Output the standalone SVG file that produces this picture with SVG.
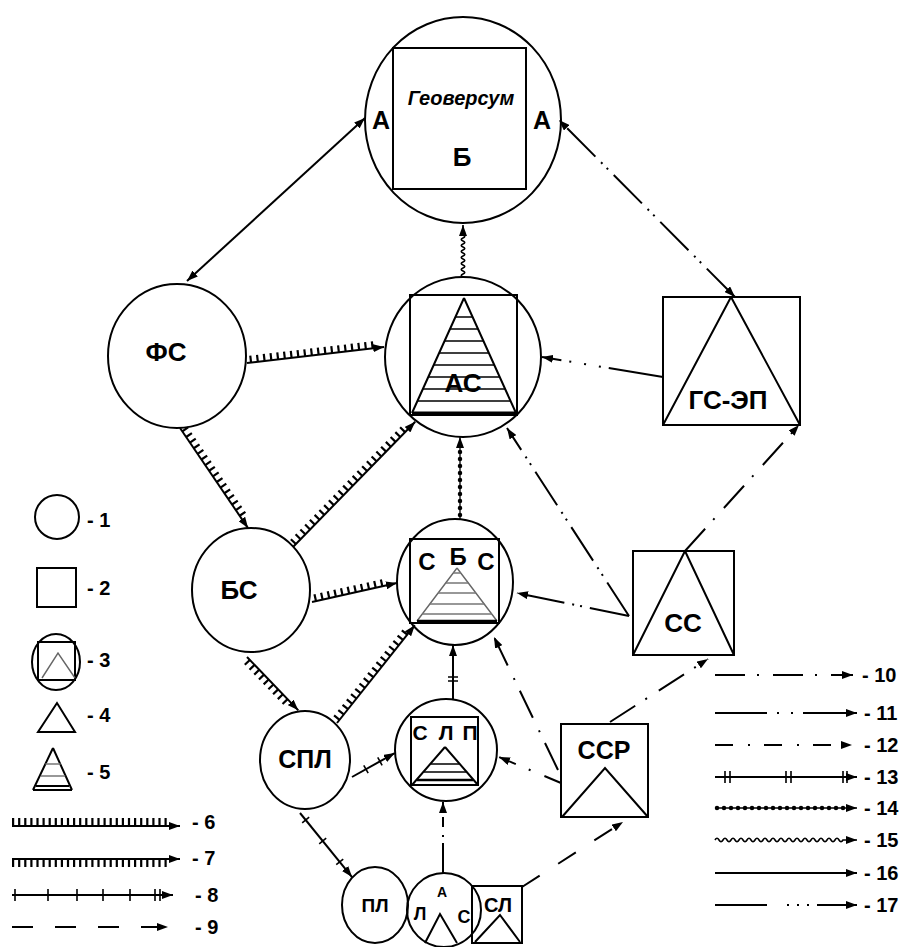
<svg xmlns="http://www.w3.org/2000/svg" width="910" height="947" viewBox="0 0 910 947">
<defs>
<style>
.s{fill:none;stroke:#000;stroke-width:2}
.g{fill:none;stroke:#666;stroke-width:1.4}
.h{fill:none;stroke:#000;stroke-width:1.4}
.hg{fill:none;stroke:#777;stroke-width:1.4}
.t{font-family:"Liberation Sans",Arial,sans-serif;font-weight:bold;fill:#000;text-anchor:middle}
.lg{font-family:"Liberation Sans",Arial,sans-serif;font-weight:bold;fill:#000;font-size:20px}
.ln{fill:none;stroke:#000;stroke-width:2}
.tk{fill:none;stroke:#000;stroke-width:7;stroke-dasharray:2.2 4.6}
.x{fill:none;stroke:#000;stroke-width:1.6}
.d9{stroke-dasharray:21 22}
.d10{stroke-dasharray:30 12 2 14}
.d11{stroke-dasharray:40 8 2 6 2 8}
.d12{stroke-dasharray:18 15 2 14}
.dot{fill:none;stroke:#000;stroke-width:4.5;stroke-linecap:round;stroke-dasharray:0 7}
.thin{fill:none;stroke:#000;stroke-width:1.3}
.wave{fill:none;stroke:#000;stroke-width:1.6}
</style>
<marker id="ah" viewBox="0 0 11 8" refX="11" refY="4" markerWidth="11" markerHeight="8" markerUnits="userSpaceOnUse" orient="auto-start-reverse"><path d="M0,0L11,4L0,8z" fill="#000"/></marker>
</defs>
<rect width="910" height="947" fill="#fff"/>

<g id="geoversum">
<ellipse class="s" cx="463" cy="120" rx="98" ry="103"/>
<rect class="s" x="393" y="48" width="133" height="141"/>
<text class="t" x="461" y="105" font-size="20" font-style="italic">Геоверсум</text>
<text class="t" x="462" y="166" font-size="26">Б</text>
<text class="t" x="381" y="129" font-size="25">А</text>
<text class="t" x="542" y="129" font-size="25">А</text>
</g>

<g id="fs">
<ellipse class="s" cx="177" cy="356" rx="69" ry="72"/>
<text class="t" x="166" y="361" font-size="26">ФС</text>
</g>

<g id="as">
<ellipse class="s" cx="463" cy="357" rx="78" ry="80"/>
<rect class="s" x="410" y="295" width="107" height="120"/>
<path class="s" d="M464,298L412,413M464,298L516,413"/>
<path d="M412,413H516" stroke="#000" stroke-width="3"/>
<path class="h" d="M455.4,317H472.6M450,329H478M444.6,341H483.4M439.1,353H488.9M433.7,365H494.3M428.3,377H499.7M422.9,389H505.1M417.4,401H510.6"/>
<text class="t" x="463" y="392" font-size="26">АС</text>
</g>

<g id="gsep">
<rect class="s" x="663" y="297" width="137" height="128"/>
<path class="s" d="M731,297L663,425M731,297L800,425"/>
<text class="t" x="728" y="409" font-size="26">ГС-ЭП</text>
</g>

<g id="bs">
<ellipse class="s" cx="251" cy="590" rx="59" ry="62"/>
<text class="t" x="239" y="599" font-size="26">БС</text>
</g>

<g id="sbs">
<ellipse class="s" cx="455" cy="582" rx="58" ry="63"/>
<rect class="s" x="410" y="539" width="89" height="84"/>
<path class="g" d="M457,568L417,621M457,568L497,621"/>
<path class="hg" d="M453.2,573H460.8M445.7,583H468.3M438.1,593H475.9M429.8,604H484.2M422.3,614H491.7"/>
<path d="M417,621H497" stroke="#000" stroke-width="2.5"/>
<text class="t" x="427" y="570" font-size="24">С</text>
<text class="t" x="458" y="565" font-size="24">Б</text>
<text class="t" x="486" y="570" font-size="24">С</text>
</g>

<g id="ss">
<rect class="s" x="633" y="551" width="101" height="104"/>
<path class="s" d="M685,551L633,655M685,551L734,655"/>
<text class="t" x="683" y="632" font-size="26">СС</text>
</g>

<g id="spl">
<ellipse class="s" cx="305" cy="760" rx="45" ry="49"/>
<text class="t" x="305" y="768" font-size="25">СПЛ</text>
</g>

<g id="slp">
<ellipse class="s" cx="446" cy="750" rx="51" ry="51"/>
<rect class="s" x="411" y="717" width="67" height="68"/>
<path class="s" d="M445,747L412,785M445,747L478,785"/>
<path class="h" d="M431,764H459M424,772H466"/>
<path d="M417,780H473" stroke="#000" stroke-width="2.5"/>
<text class="t" x="420" y="740" font-size="21">С</text>
<text class="t" x="446" y="740" font-size="21">Л</text>
<text class="t" x="470" y="740" font-size="21">П</text>
</g>

<g id="ssr">
<rect class="s" x="561" y="724" width="87" height="93"/>
<path class="s" d="M562,817L605,768L648,817"/>
<text class="t" x="604" y="759" font-size="25">ССР</text>
</g>

<g id="pl">
<ellipse class="s" cx="375" cy="905" rx="33" ry="38"/>
<text class="t" x="375" y="912" font-size="19">ПЛ</text>
</g>

<g id="als">
<ellipse class="s" cx="444" cy="910" rx="37" ry="37"/>
<path class="s" d="M425,943L440,914L457,943"/>
<text class="t" x="442" y="897" font-size="14">А</text>
<text class="t" x="420" y="920" font-size="18">Л</text>
<text class="t" x="464" y="923" font-size="18">С</text>
</g>

<g id="sl">
<rect class="s" x="472" y="886" width="50" height="57"/>
<path class="s" d="M475,942L500,915L520,942"/>
<text class="t" x="498" y="912" font-size="20">СЛ</text>
</g>

<g id="connectors">
<line class="ln" x1="187" y1="281" x2="365" y2="118" marker-start="url(#ah)" marker-end="url(#ah)"/>
<line class="ln d11" x1="735" y1="297" x2="559" y2="120" marker-start="url(#ah)" marker-end="url(#ah)"/>
<g transform="translate(463,277) rotate(-90)"><path class="wave" d="M0,0q1.5,-3.5 3,0t3,0t3,0t3,0t3,0t3,0t3,0t3,0t3,0t3,0t3,0t3,0t3,0t3,0h10" marker-end="url(#ah)"/></g>
<g transform="translate(247,363) rotate(-6.66)"><path class="ln" d="M0,0H138" marker-end="url(#ah)"/><path class="tk" d="M3,-3.5H128"/></g>
<g transform="translate(180,428) rotate(55.8)"><path class="ln" d="M0,0H121" marker-end="url(#ah)"/><path class="tk" d="M3,-3.5H111"/></g>
<g transform="translate(293,547) rotate(-45.7)"><path class="ln" d="M0,0H175" marker-end="url(#ah)"/><path class="tk" d="M3,-3.5H165"/></g>
<g transform="translate(312,602) rotate(-12.6)"><path class="ln" d="M0,0H87" marker-end="url(#ah)"/><path class="tk" d="M3,-3.5H77"/></g>
<g transform="translate(337,723) rotate(-51.5)"><path class="ln" d="M0,0H125" marker-end="url(#ah)"/><path class="tk" d="M3,-3.5H115"/></g>
<g transform="translate(247,657) rotate(46.1)"><path class="ln" d="M0,0H74" marker-end="url(#ah)"/><path class="tk" d="M3,3.5H64"/></g>
<g transform="translate(460,519) rotate(-90)"><path class="thin" d="M0,0H82" marker-end="url(#ah)"/><path class="dot" d="M4,0H72"/></g>
<g transform="translate(453,699) rotate(-90)"><path class="ln" d="M0,0H54" marker-end="url(#ah)"/><path class="x" d="M18,-5V5M22,-5V5"/></g>
<g transform="translate(352,777) rotate(-29.2)"><path class="ln" d="M0,0H49" marker-end="url(#ah)"/><path class="x" d="M16,-4.5V4.5M32,-4.5V4.5"/></g>
<g transform="translate(300,813) rotate(50.9)"><path class="ln" d="M0,0H82.5" marker-end="url(#ah)"/><path class="x" d="M9,-4.5V4.5M36,-4.5V4.5M63,-4.5V4.5"/></g>
<line class="ln d11" x1="629" y1="616" x2="507" y2="428" marker-end="url(#ah)"/>
<line class="ln d11" x1="629" y1="616" x2="517" y2="593" marker-end="url(#ah)"/>
<line class="ln d10" x1="685" y1="551" x2="799" y2="425" marker-end="url(#ah)"/>
<line class="ln" style="stroke-dasharray:55 8 2 13 2 13 2 8 40" x1="663" y1="377" x2="542" y2="357" marker-end="url(#ah)"/>
<line class="ln d10" x1="558" y1="770" x2="494" y2="637" marker-end="url(#ah)"/>
<line class="ln d12" x1="561" y1="783" x2="499" y2="757" marker-end="url(#ah)"/>
<line class="ln d10" x1="610" y1="722" x2="708" y2="659" marker-end="url(#ah)"/>
<line class="ln" style="stroke-dasharray:30 6 2 8 10 4 20" x1="443" y1="873" x2="443" y2="802" marker-end="url(#ah)"/>
<line class="ln d9" x1="522" y1="887" x2="623" y2="822" marker-end="url(#ah)"/>
</g>

<g id="legend">
<circle class="s" cx="57" cy="517" r="22"/>
<text class="lg" x="87" y="527">- 1</text>
<rect class="s" x="37" y="568" width="39" height="39"/>
<text class="lg" x="87" y="595">- 2</text>
<ellipse class="s" cx="56" cy="662" rx="24" ry="28"/>
<rect class="s" x="38" y="642" width="37" height="38"/>
<path class="g" d="M42,678L58,653L75,678"/>
<text class="lg" x="87" y="667">- 3</text>
<path class="s" d="M57,703L38,732H75Z"/>
<text class="lg" x="87" y="722">- 4</text>
<path class="s" d="M53,748L33,790M53,748L72,790"/>
<path class="hg" d="M45.4,764H60.6M40.8,776H65.2"/>
<path d="M36,786H69M33,790H72" stroke="#000" stroke-width="2"/>
<text class="lg" x="87" y="779">- 5</text>
<path class="ln" d="M12,826H180" marker-end="url(#ah)"/>
<path class="tk" style="stroke-width:8;stroke-dasharray:2.2 3.9" d="M12,822H168"/>
<text class="lg" x="192" y="829">- 6</text>
<path class="ln" d="M12,859H180" marker-end="url(#ah)"/>
<path class="tk" style="stroke-width:8;stroke-dasharray:2.2 3.9" d="M12,863H168"/>
<text class="lg" x="192" y="865">- 7</text>
<path class="ln" d="M12,895H173" marker-end="url(#ah)"/>
<path class="x" d="M15,889V901M48,889V901M77,889V901M103,889V901M130,889V901M155,889V901M160,889V901"/>
<text class="lg" x="195" y="902">- 8</text>
<path class="ln d9" d="M12,927H168" marker-end="url(#ah)"/>
<text class="lg" x="195" y="934">- 9</text>

<path class="ln d10" d="M715,675H853" marker-end="url(#ah)"/>
<text class="lg" x="862" y="682">- 10</text>
<path class="ln" style="stroke-dasharray:52 10 2 12 2 10 60" d="M715,713H857" marker-end="url(#ah)"/>
<text class="lg" x="864" y="720">- 11</text>
<path class="ln d12" d="M715,745H852" marker-end="url(#ah)"/>
<text class="lg" x="864" y="752">- 12</text>
<path class="ln" d="M715,777H857" marker-end="url(#ah)"/>
<path class="x" d="M725,771V783M730,771V783M786,771V783M791,771V783M843,771V783M847,771V783"/>
<text class="lg" x="864" y="784">- 13</text>
<path class="thin" d="M715,808H857" marker-end="url(#ah)"/>
<path class="dot" d="M717,808H845"/>
<text class="lg" x="864" y="815">- 14</text>
<path class="wave" d="M715,840q2,-3.5 4,0t4,0t4,0t4,0t4,0t4,0t4,0t4,0t4,0t4,0t4,0t4,0t4,0t4,0t4,0t4,0t4,0t4,0t4,0t4,0t4,0t4,0t4,0t4,0t4,0t4,0t4,0t4,0t4,0t4,0t4,0t4,0H857" marker-end="url(#ah)"/>
<text class="lg" x="864" y="847">- 15</text>
<path class="ln" d="M715,873H857" marker-end="url(#ah)"/>
<text class="lg" x="864" y="880">- 16</text>
<path class="ln" style="stroke-dasharray:52 20 2 8 2 8 2 8 60" d="M715,905H857" marker-end="url(#ah)"/>
<text class="lg" x="864" y="912">- 17</text>
</g>
</svg>
